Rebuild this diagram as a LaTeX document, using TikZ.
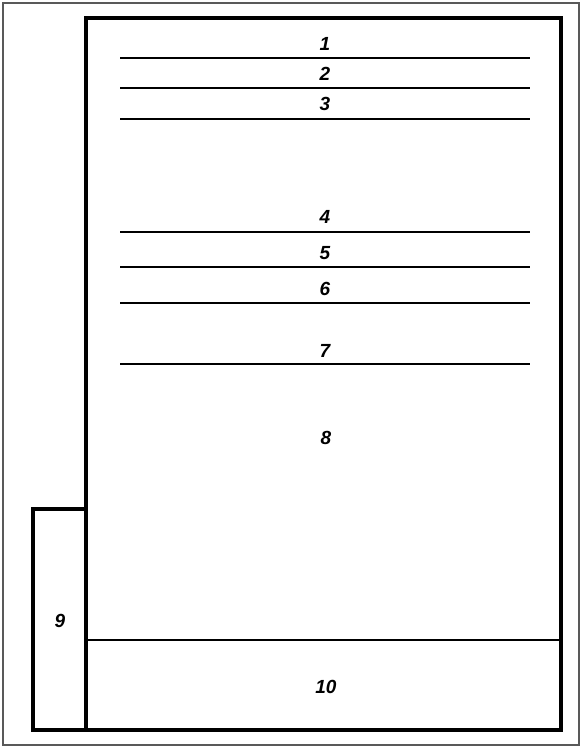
\documentclass[tikz,border=0pt]{standalone}
\usepackage{fontspec}
\setmainfont{Liberation Sans}
\begin{document}
\begin{tikzpicture}[x=1pt,y=-1pt,
  lbl/.style={font=\fontsize{19}{19}\selectfont\bfseries\itshape, inner sep=0pt, anchor=center},
  layer/.style={line width=2.4pt},
  thinlayer/.style={line width=1.2pt},
  frame/.style={line width=3.4pt}]
\useasboundingbox (0,0) rectangle (582,748);
\draw[gray!70!black, line width=1.2pt] (3,3) rectangle (579,745);
% main body
\draw[frame] (86,730) -- (86,18) -- (561,18) -- (561,730) -- cycle;
% left box 9
\draw[frame] (86,509) -- (33,509) -- (33,730) -- (86,730);
\draw[line width=2pt] (86,509) -- (86,730);
% line separating 10
\draw[line width=2pt] (86,640) -- (561,640);
% layers
\foreach \y/\s in {58/layer,88/layer,119/layer,232/thinlayer,267/layer,303/layer,364/layer}
  \draw[\s] (120,\y) -- (530,\y);
\node[lbl] (l1) at (325,44) {1};
\node[lbl] (l2) at (325,74) {2};
\node[lbl] (l3) at (325,104) {3};
\node[lbl] (l4) at (325,217) {4};
\node[lbl] (l5) at (325,253) {5};
\node[lbl] (l6) at (325,289) {6};
\node[lbl] (l7) at (325,351) {7};
\node[lbl] (l8) at (326,438) {8};
\node[lbl] (l9) at (60,621) {9};
\node[lbl] (l10) at (326,687) {10};
\end{tikzpicture}
\end{document}
